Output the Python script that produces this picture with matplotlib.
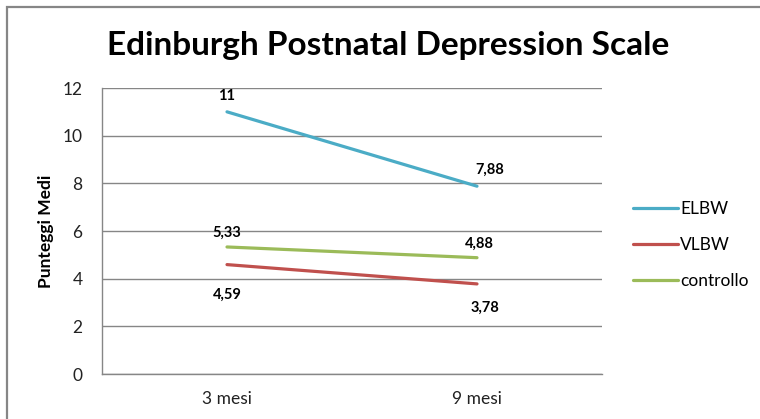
import matplotlib.pyplot as plt
from matplotlib.patches import Rectangle

plt.rcParams['font.family'] = ['Lato', 'DejaVu Sans']

categories = ['3 mesi', '9 mesi']
elbw = [11, 7.88]
vlbw = [4.59, 3.78]
controllo = [5.33, 4.88]

series = [
    ('ELBW', elbw, '#4BACC6', [(0, 16), (13, 16)]),
    ('VLBW', vlbw, '#C0504D', [(0, -30), (8, -24)]),
    ('controllo', controllo, '#9BBB59', [(0, 14), (2, 14)]),
]


def fmt(v):
    s = ('%.2f' % v).rstrip('0').rstrip('.')
    return s.replace('.', ',')


fig = plt.figure(figsize=(7.6, 4.19), dpi=100)
ax = fig.add_axes([102 / 760, 1 - 374 / 419, 500 / 760, 286 / 419])

# outer chart frame, cut off at right and bottom
fig.patches.append(Rectangle((7 / 760, -0.05), 1.0, 1 - 7 / 419 + 0.05,
                             transform=fig.transFigure, fill=False,
                             edgecolor='#868686', linewidth=1.6))

x = range(len(categories))
for name, vals, color, offsets in series:
    ax.plot(x, vals, color=color, linewidth=2.3, label=name,
            solid_capstyle='round')
    for xi, v, off in zip(x, vals, offsets):
        ax.annotate(fmt(v), (xi, v), xytext=off, textcoords='offset pixels',
                    ha='center', va='center', fontsize=10.5, fontweight='bold')

ax.set_xlim(-0.5, 1.5)
ax.set_ylim(0, 12)
ax.set_yticks(range(0, 13, 2))
ax.set_xticks(list(x))
ax.set_xticklabels(categories)
ax.grid(axis='y', color='#868686', linewidth=1)
ax.set_axisbelow(True)
for s in ['top', 'right']:
    ax.spines[s].set_visible(False)
for s in ['left', 'bottom']:
    ax.spines[s].set_color('#868686')
    ax.spines[s].set_linewidth(1)
ax.tick_params(length=0, labelsize=12.5, pad=14, colors='#222222')
ax.tick_params(axis='x', pad=12)

ax.set_ylabel('Punteggi Medi', fontsize=12.5, fontweight='bold', labelpad=6)
fig.text(388 / 760, 1 - 45 / 419, 'Edinburgh Postnatal Depression Scale',
         ha='center', va='center', fontsize=24, fontweight='bold')

fig.legend(loc='center left', bbox_to_anchor=(617 / 760, 1 - 245 / 419),
           frameon=False, fontsize=12.5, handlelength=2.6, handletextpad=0.15,
           labelspacing=1.15)

fig.savefig('out.png', dpi=100, facecolor='white')
